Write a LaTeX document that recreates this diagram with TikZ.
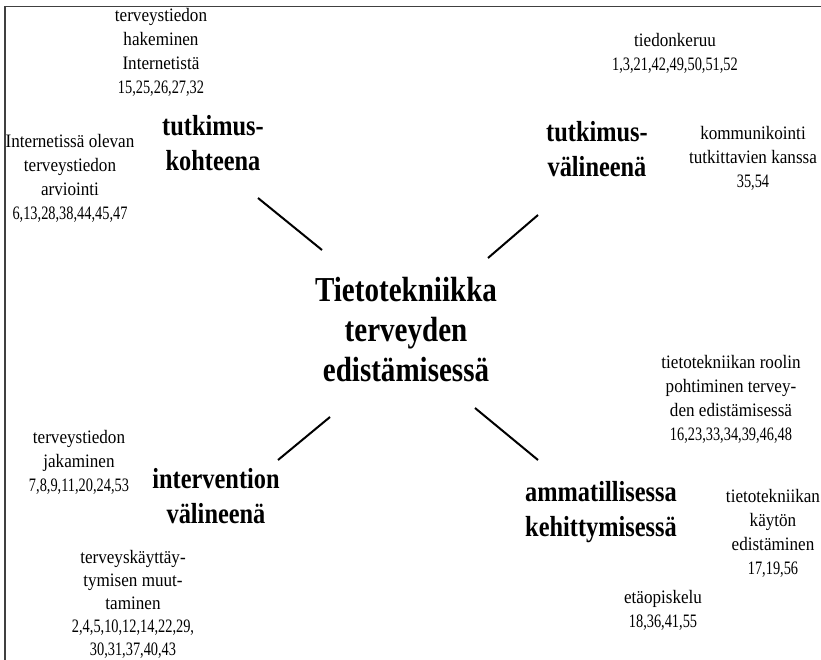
\documentclass[tikz,border=0pt]{standalone}
\usepackage{fontspec}
\usepackage{graphicx}
\setmainfont{Liberation Serif}
\usetikzlibrary{positioning}
\newcommand{\refnums}[1]{\scalebox{0.84}[1]{#1}}

\begin{document}
\begin{tikzpicture}[x=1pt, y=-1pt,
  hub/.style={font=\fontsize{35}{40}\selectfont\bfseries, align=center, xscale=0.83, inner sep=0pt},
  role/.style={font=\fontsize{29}{35}\selectfont\bfseries, align=center, xscale=0.84, inner sep=0pt},
  topic/.style={font=\fontsize{19}{24}\selectfont, align=center, xscale=0.9, inner sep=0pt},
  spoke/.style={line width=2pt}
]
\useasboundingbox (0,0) rectangle (821,660);
% frame
\draw[line width=1.6pt, black!75] (5,660) |- (821,6.5);
% centre and roles
\node[hub] (hub) at (406,330) {Tietotekniikka\\terveyden\\edistämisessä};
\node[role] (kohde) at (213,143) {tutkimus-\\kohteena};
\node[role] (valine) at (597,149) {tutkimus-\\välineenä};
\node[role] (interv) at (216,496) {intervention\\välineenä};
\node[role] (ammat) at (601,512) {ammatillisessa\\kehittymisessä};
% topics
\node[topic] (haku) at (161,52) {terveystiedon\\hakeminen\\Internetistä\\\refnums{15,25,26,27,32}};
\node[topic] (arvio) at (70,178) {Internetissä olevan\\terveystiedon\\arviointi\\\refnums{6,13,28,38,44,45,47}};
\node[topic] (keruu) at (675,53) {tiedonkeruu\\\refnums{1,3,21,42,49,50,51,52}};
\node[topic] (kommu) at (753,158) {kommunikointi\\tutkittavien kanssa\\\refnums{35,54}};
\node[topic] (jako) at (79,462) {terveystiedon\\jakaminen\\\refnums{7,8,9,11,20,24,53}};
\node[topic, font=\fontsize{19}{23}\selectfont] (muutos) at (133,604) {terveyskäyttäy-\\tymisen muut-\\taminen\\\refnums{2,4,5,10,12,14,22,29,}\\\refnums{30,31,37,40,43}};
\node[topic] (rooli) at (731,399) {tietotekniikan roolin\\pohtiminen tervey-\\den edistämisessä\\\refnums{16,23,33,34,39,46,48}};
\node[topic] (kaytto) at (773,533) {tietotekniikan\\käytön\\edistäminen\\\refnums{17,19,56}};
\node[topic] (eta) at (663,610) {etäopiskelu\\\refnums{18,36,41,55}};
% spokes
\coordinate (k1) at (258,198);
\coordinate (k2) at (322,250);
\coordinate (v1) at (538,215);
\coordinate (v2) at (488,258);
\coordinate (i1) at (330,417);
\coordinate (i2) at (278,460);
\coordinate (a1) at (475,408);
\coordinate (a2) at (538,460);
\draw[spoke] (k1) -- (k2);
\draw[spoke] (v1) -- (v2);
\draw[spoke] (i1) -- (i2);
\draw[spoke] (a1) -- (a2);
\end{tikzpicture}
\end{document}
